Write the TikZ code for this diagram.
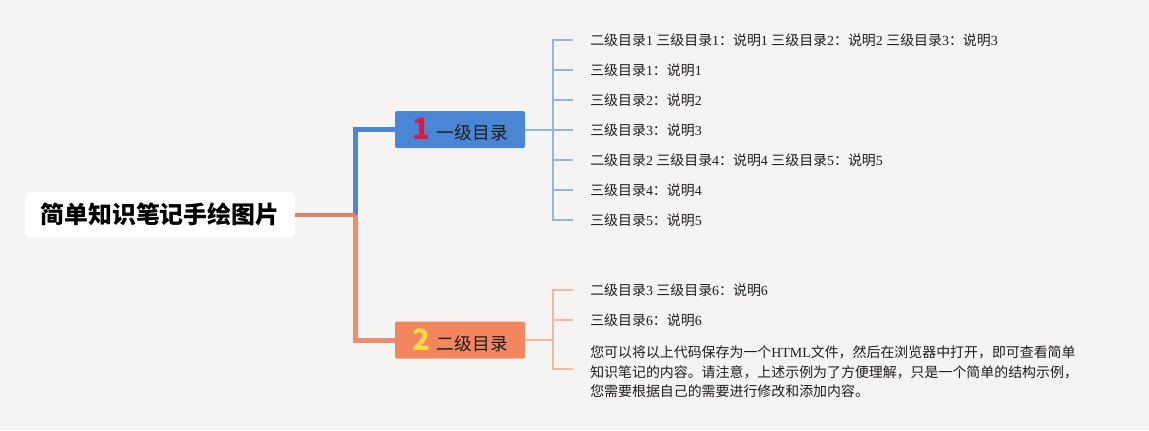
\documentclass[tikz,border=0pt]{standalone}
\usepackage{fontspec}
\setmainfont{Liberation Serif}
\newfontfamily\cjk{Noto Sans CJK SC}
\newcommand\zh[1]{{\cjk #1}}
\definecolor{bgc}{HTML}{F5F4F3}
\definecolor{lvblue}{HTML}{4A86D4}
\definecolor{lvsalmon}{HTML}{F4865F}
\definecolor{trunkblue}{HTML}{4A86D4}
\definecolor{trunksalmon}{HTML}{F28B6C}
\definecolor{rootline}{HTML}{E0806E}
\definecolor{leafblue}{HTML}{94B3DE}
\definecolor{leafsalmon}{HTML}{F3B9A2}
\definecolor{numred}{HTML}{E5173F}
\definecolor{numyellow}{HTML}{F7DC45}
\definecolor{txt}{HTML}{1E1E1E}
\tikzset{
  rootbox/.style={fill=white, rounded corners=3pt, minimum width=202.5pt, minimum height=33.75pt, inner sep=0pt, text=black, font=\fontsize{17.9}{20}\selectfont},
  lvlbox/.style={rounded corners=1.5pt, minimum width=97.5pt, minimum height=27.75pt, inner sep=0pt, text=txt, font=\fontsize{13.3}{15}\selectfont},
  leaf/.style={anchor=west, inner sep=0pt, text=txt, font=\fontsize{10.45}{12}\selectfont},
  para/.style={anchor=west, inner sep=0pt, text=txt, align=left, font=\fontsize{10.45}{14.6}\selectfont},
  rootlink/.style={draw=rootline, line width=3pt},
  trunkb/.style={draw=trunkblue, line width=3.75pt},
  trunks/.style={draw=trunksalmon, line width=3.75pt},
  leafb/.style={draw=leafblue, line width=1.5pt},
  leafs/.style={draw=leafsalmon, line width=1.5pt}
}
\newcommand\bignum[2]{{\fontsize{22}{22}\selectfont\cjk\bfseries\textcolor{#1}{#2}}}
\begin{document}
\begin{tikzpicture}[x=0.75pt,y=-0.75pt]
\fill[bgc] (0,0) rectangle (1149,430);
\useasboundingbox (0,0) rectangle (1149,430);

\node[rootbox] (root) at (160,214.5) {\zh{\bfseries 简单知识笔记手绘图片}};
\coordinate (trunk) at (355,214.5);

\node[lvlbox, fill=lvblue] (b1) at (460,129.5) {\bignum{numred}{1}\hspace{5pt}\zh{一级目录}};
\node[lvlbox, fill=lvsalmon] (b2) at (460,340) {\bignum{numyellow}{2}\hspace{5pt}\zh{二级目录}};

\draw[trunkb] (trunk) |- (b1.west);
\draw[trunks] (trunk) |- (b2.west);
\draw[rootlink] (root.east) -- (trunk);

% branch 1
\coordinate (bus1) at (553,129.5);
\draw[leafb] (b1.east) -- (bus1);
\node[leaf] (c1) at (590,40) {\zh{二级目录}1 \zh{三级目录}1\zh{：说明}1 \zh{三级目录}2\zh{：说明}2 \zh{三级目录}3\zh{：说明}3};
\node[leaf] (c2) at (590,70) {\zh{三级目录}1\zh{：说明}1};
\node[leaf] (c3) at (590,100) {\zh{三级目录}2\zh{：说明}2};
\node[leaf] (c4) at (590,130) {\zh{三级目录}3\zh{：说明}3};
\node[leaf] (c5) at (590,160) {\zh{二级目录}2 \zh{三级目录}4\zh{：说明}4 \zh{三级目录}5\zh{：说明}5};
\node[leaf] (c6) at (590,190) {\zh{三级目录}4\zh{：说明}4};
\node[leaf] (c7) at (590,220) {\zh{三级目录}5\zh{：说明}5};
\foreach \i/\y in {1/40,2/70,3/100,4/130,5/160,6/190,7/220}{
  \coordinate (e\i) at (573,\y);
  \draw[leafb] (bus1) |- (e\i);
}

% branch 2
\coordinate (bus2) at (553,340);
\draw[leafs] (b2.east) -- (bus2);
\node[leaf] (d1) at (590,290) {\zh{二级目录}3 \zh{三级目录}6\zh{：说明}6};
\node[leaf] (d2) at (590,320) {\zh{三级目录}6\zh{：说明}6};
\node[para] (d3) at (590,372) {\zh{您可以将以上代码保存为一个}HTML\zh{文件，然后在浏览器中打开，即可查看简单}\\
\zh{知识笔记的内容。请注意，上述示例为了方便理解，只是一个简单的结构示例，}\\
\zh{您需要根据自己的需要进行修改和添加内容。}};
\foreach \i/\y in {1/290,2/320,3/369}{
  \coordinate (f\i) at (573,\y);
  \draw[leafs] (bus2) |- (f\i);
}
\end{tikzpicture}
\end{document}
